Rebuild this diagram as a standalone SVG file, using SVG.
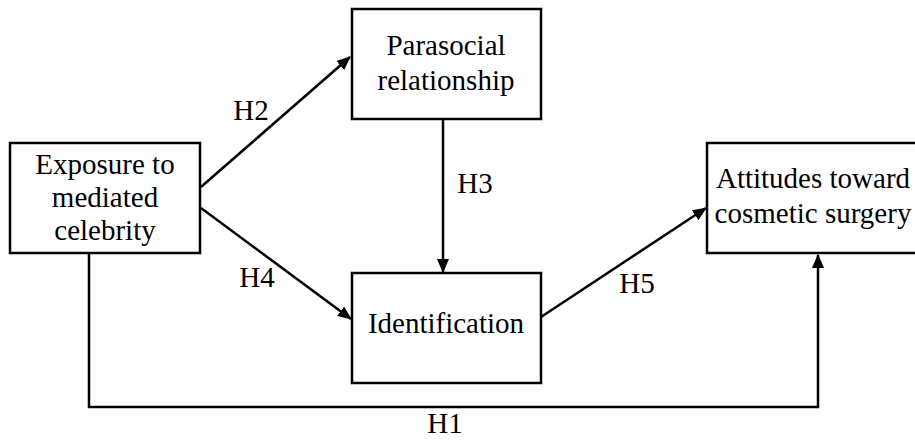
<svg xmlns="http://www.w3.org/2000/svg" width="915" height="444" viewBox="0 0 915 444">
<style>
.box{fill:#fff;stroke:#000;stroke-width:2.5}
.t{font-family:"Liberation Serif","Times New Roman",serif;font-size:29px;fill:#000;text-anchor:middle}
.c{fill:none;stroke:#000;stroke-width:2.5}
</style>
<defs>
<marker id="ah" markerWidth="14" markerHeight="12" refX="13" refY="6" orient="auto" markerUnits="userSpaceOnUse">
<path d="M0,0 L14,6 L0,12 Z" fill="#000"/>
</marker>
</defs>
<rect width="915" height="444" fill="#fff"/>
<g id="connectors">
<line class="c" x1="201" y1="187" x2="350" y2="57" marker-end="url(#ah)"/>
<line class="c" x1="201" y1="208" x2="351" y2="319" marker-end="url(#ah)"/>
<line class="c" x1="443" y1="119" x2="443" y2="272" marker-end="url(#ah)"/>
<line class="c" x1="541" y1="317" x2="706" y2="208" marker-end="url(#ah)"/>
<polyline class="c" points="89,253 89,407 818,407 818,255" marker-end="url(#ah)"/>
<text class="t" x="251" y="120">H2</text>
<text class="t" x="257" y="287">H4</text>
<text class="t" x="475" y="193">H3</text>
<text class="t" x="637" y="293">H5</text>
<text class="t" x="445" y="433">H1</text>
</g>
<g id="exposure">
<rect class="box" x="10" y="143" width="190" height="110"/>
<text class="t" x="105" y="174">Exposure to</text>
<text class="t" x="105" y="207">mediated</text>
<text class="t" x="105" y="240">celebrity</text>
</g>
<g id="parasocial">
<rect class="box" x="352" y="9" width="189" height="110"/>
<text class="t" x="446" y="55">Parasocial</text>
<text class="t" x="446" y="90">relationship</text>
</g>
<g id="identification">
<rect class="box" x="352" y="273" width="189" height="110"/>
<text class="t" x="446" y="333">Identification</text>
</g>
<g id="attitudes">
<rect class="box" x="707" y="143" width="215" height="110"/>
<text class="t" x="813" y="188">Attitudes toward</text>
<text class="t" x="813" y="223">cosmetic surgery</text>
</g>
</svg>
